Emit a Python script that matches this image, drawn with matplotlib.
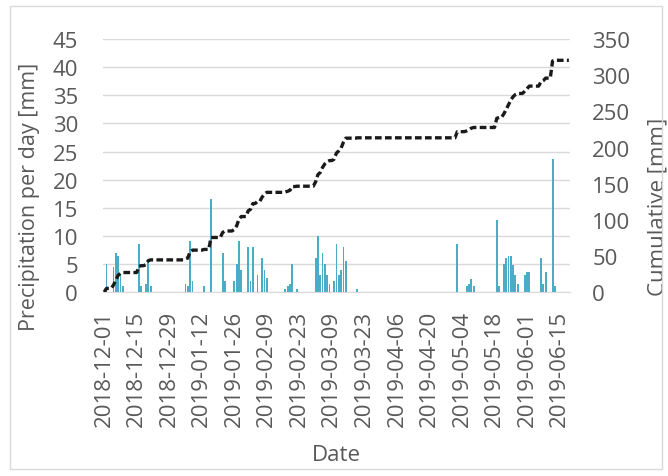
import numpy as np
import pandas as pd
import matplotlib
matplotlib.use('Agg')
import matplotlib.pyplot as plt
import matplotlib.dates as mdates
from matplotlib.patches import Rectangle

plt.rcParams['font.family'] = ['Open Sans', 'DejaVu Sans']

# period covered by the record
start = '2018-12-01'
end = '2019-06-19'

# days with rain (all other days are 0 mm)
rain_dates = ['2018-12-02', '2018-12-05', '2018-12-06', '2018-12-07', '2018-12-08', '2018-12-09',
              '2018-12-16', '2018-12-17', '2018-12-19', '2018-12-20', '2018-12-21',
              '2019-01-05', '2019-01-06', '2019-01-07', '2019-01-08', '2019-01-13', '2019-01-16',
              '2019-01-21', '2019-01-22', '2019-01-26', '2019-01-27', '2019-01-28', '2019-01-29',
              '2019-02-01', '2019-02-02', '2019-02-03', '2019-02-05', '2019-02-07', '2019-02-08',
              '2019-02-09', '2019-02-17', '2019-02-18', '2019-02-19', '2019-02-20', '2019-02-22',
              '2019-03-02', '2019-03-03', '2019-03-04', '2019-03-05', '2019-03-06', '2019-03-07',
              '2019-03-08', '2019-03-10', '2019-03-11', '2019-03-12', '2019-03-13', '2019-03-14',
              '2019-03-15', '2019-03-20',
              '2019-05-02', '2019-05-06', '2019-05-07', '2019-05-08', '2019-05-09',
              '2019-05-19', '2019-05-20', '2019-05-22', '2019-05-23', '2019-05-24', '2019-05-25',
              '2019-05-26', '2019-05-27', '2019-05-28', '2019-05-31', '2019-06-01', '2019-06-02',
              '2019-06-07', '2019-06-08', '2019-06-09', '2019-06-12', '2019-06-13']
rain_mm = [5.0, 4.5, 7.0, 6.5, 3.0, 1.0,
           8.5, 1.0, 1.5, 5.5, 1.0,
           1.5, 1.0, 9.0, 2.0, 1.0, 16.5,
           7.0, 2.0, 2.0, 5.0, 9.0, 4.0,
           8.0, 2.0, 8.0, 3.0, 6.0, 4.0,
           2.5, 0.5, 1.0, 1.5, 5.0, 0.5,
           6.0, 10.0, 3.0, 7.0, 5.0, 3.0,
           1.5, 2.0, 8.5, 3.0, 4.0, 8.0,
           5.5, 0.5,
           8.5, 1.0, 1.5, 2.3, 1.0,
           12.8, 1.0, 5.0, 6.0, 6.5, 6.5,
           4.8, 3.0, 1.5, 3.0, 3.6, 3.6,
           6.0, 1.5, 3.5, 23.7, 1.0]

days = pd.date_range(start, end, freq='D')
daily = pd.Series(rain_mm, index=pd.to_datetime(rain_dates)).reindex(days, fill_value=0.0)
cumulative = daily.cumsum()

left_ticks = np.arange(0, 46, 5)
right_ticks = np.arange(0, 351, 50)

fig = plt.figure(figsize=(6.68, 4.77), dpi=100)
fig.patches.append(Rectangle((10 / 668, 7 / 477), 652 / 668, 463 / 477, transform=fig.transFigure,
                             fill=False, edgecolor='#d9d9d9', linewidth=1))
ax = fig.add_axes([0.1542, 0.3857, 0.6991, 0.530])
ax2 = ax.twinx()

grey = '#595959'
ax.bar(days, daily.values, width=0.8, color='#4bacc6', zorder=2)
ax2.plot(days, cumulative.values, color='#1a1a1a', linewidth=2.4, linestyle=(0, (2, 1)), zorder=3)

ax.set_xlim(days[0] - pd.Timedelta(hours=12), days[-1] + pd.Timedelta(hours=12))
ax.set_ylim(0, 45)
ax2.set_ylim(0, 350)
ax.set_yticks(left_ticks)
ax2.set_yticks(right_ticks)
ax.set_xticks(pd.date_range(start, end, freq='14D'))
ax.xaxis.set_major_formatter(mdates.DateFormatter('%Y-%m-%d'))

ax.grid(axis='y', color='#d9d9d9', linewidth=1, zorder=0)
ax.set_axisbelow(True)
for a in (ax, ax2):
    for s in a.spines.values():
        s.set_visible(False)
ax.spines['bottom'].set_visible(True)
ax.spines['bottom'].set_color('#d9d9d9')

ax.tick_params(axis='x', length=0, pad=13, labelsize=16, labelcolor=grey, rotation=90)
ax.tick_params(axis='y', length=0, pad=18, labelsize=16, labelcolor=grey)
ax2.tick_params(axis='y', length=0, pad=16, labelsize=16, labelcolor=grey)

ax.set_ylabel('Precipitation per day [mm]', fontsize=15.5, color=grey)
ax2.set_ylabel('Cumulative [mm]', fontsize=16, color=grey)
ax.set_xlabel('Date', fontsize=16, color=grey)
ax.yaxis.set_label_coords(-0.135, 0.38)
ax2.yaxis.set_label_coords(1.167, 0.34)
ax.xaxis.set_label_coords(0.5, -0.60)

fig.savefig('out.png', dpi=100)
